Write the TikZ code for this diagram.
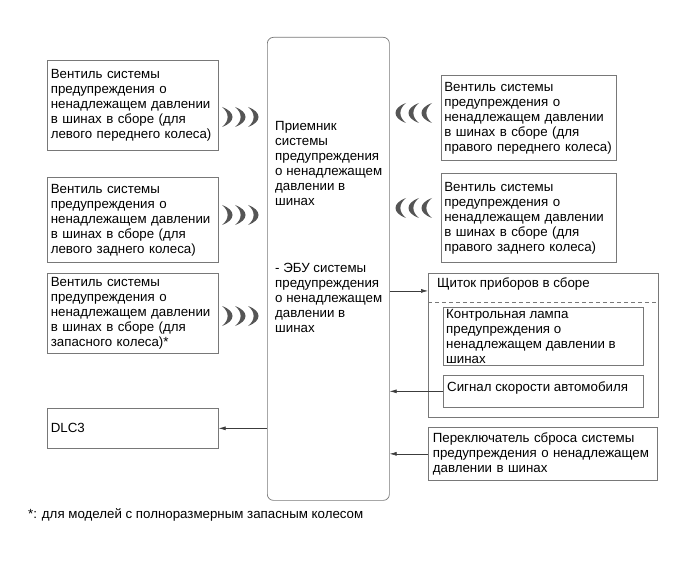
\documentclass[tikz,border=0pt]{standalone}
\usepackage{fontspec}
\setmainfont{Liberation Sans}
\usetikzlibrary{arrows.meta,positioning,calc}
\definecolor{boxcol}{RGB}{120,120,120}
\definecolor{linecol}{RGB}{60,60,60}
\definecolor{wavecol}{RGB}{85,85,85}

\begin{document}
\begin{tikzpicture}[x=1pt, y=-1pt,
  box/.style={draw=boxcol, line width=0.7pt, inner sep=0pt, anchor=north west,
              font=\fontsize{13.3}{15}\selectfont, align=left},
  txt/.style={inner sep=0pt, anchor=north west, font=\fontsize{13.3}{15}\selectfont, align=left},
  arr/.style={-{Latex[length=7pt,width=4pt]}, line width=0.6pt, draw=linecol},
  wave/.pic={\fill[wavecol] (0,-10) .. controls (14,-5) and (14,5) .. (0,10)
                            .. controls (7.5,4) and (7.5,-4) .. (0,-10);}]
  \useasboundingbox (0,0) rectangle (690,561);
  % left valves
  \node[box, minimum width=171, minimum height=90, text width=164] (lfront) at (47,60)
    {Вентиль системы\\предупреждения о\\ненадлежащем давлении\\в шинах в сборе (для\\левого переднего колеса)};
  \node[box, minimum width=171, minimum height=85, text width=164] (lrear) at (47,177)
    {Вентиль системы\\предупреждения о\\ненадлежащем давлении\\в шинах в сборе (для\\левого заднего колеса)};
  \node[box, minimum width=171, minimum height=80, text width=164] (spare) at (47,273)
    {Вентиль системы\\предупреждения о\\ненадлежащем давлении\\в шинах в сборе (для\\запасного колеса)*};
  \node[box, minimum width=171, minimum height=40, text width=164] (dlc) at (47,408) {DLC3};
  % receiver / ECU
  \node[box, rounded corners=6pt, minimum width=122, minimum height=463] (ecu) at (267,37) {};
  \node[txt] (recv) at (275,121)
    {Приемник\\системы\\предупреждения\\о ненадлежащем\\давлении в\\шинах};
  \node[txt] (ecutxt) at (275,263)
    {- ЭБУ системы\\предупреждения\\о ненадлежащем\\давлении в\\шинах};
  % right valves
  \node[box, minimum width=175, minimum height=85, text width=169] (rfront) at (441,75)
    {Вентиль системы\\предупреждения о\\ненадлежащем давлении\\в шинах в сборе (для\\правого переднего колеса)};
  \node[box, minimum width=175, minimum height=89, text width=169] (rrear) at (441,173)
    {Вентиль системы\\предупреждения о\\ненадлежащем давлении\\в шинах в сборе (для\\правого заднего колеса)};
  % combination meter
  \node[box, minimum width=230, minimum height=144] (panel) at (428,273) {};
  \node[txt] (title) at (437,278) {Щиток приборов в сборе};
  \draw[boxcol, line width=0.7pt, dash pattern=on 4pt off 3pt]
    ($(panel.north west)+(0,29)$) -- ($(panel.north east)+(0,29)$);
  \node[box, minimum width=200, minimum height=58] (lamp) at (443,307) {};
  \node[txt] (lamptxt) at (446,309)
    {Контрольная лампа\\предупреждения о\\ненадлежащем давлении в\\шинах};
  \node[box, minimum width=200, minimum height=32] (speed) at (443,375) {};
  \node[txt] (speedtxt) at (447,382) {Сигнал скорости автомобиля};
  \node[box, minimum width=229, minimum height=53, text width=220] (sw) at (428,427)
    {Переключатель сброса системы\\предупреждения о ненадлежащем\\давлении в шинах};
  % radio links
  \foreach \y in {117,215,316}
    \foreach \x in {222,235,248}
      \pic at (\x,\y) {wave};
  \foreach \y in {113,208}
    \foreach \x in {432,419,406}
      \pic[xscale=-1] at (\x,\y) {wave};
  % wires
  \draw[arr] (ecu.east |- title.south) -- (panel.west |- title.south);
  \draw[arr] (speed.west) -- (speed.west -| ecu.east);
  \draw[arr] (sw.west) -- (sw.west -| ecu.east);
  \draw[arr] (ecu.west |- dlc.east) -- (dlc.east);
  \node[txt] (note) at (28,508) {*: для моделей с полноразмерным запасным колесом};
\end{tikzpicture}
\end{document}
